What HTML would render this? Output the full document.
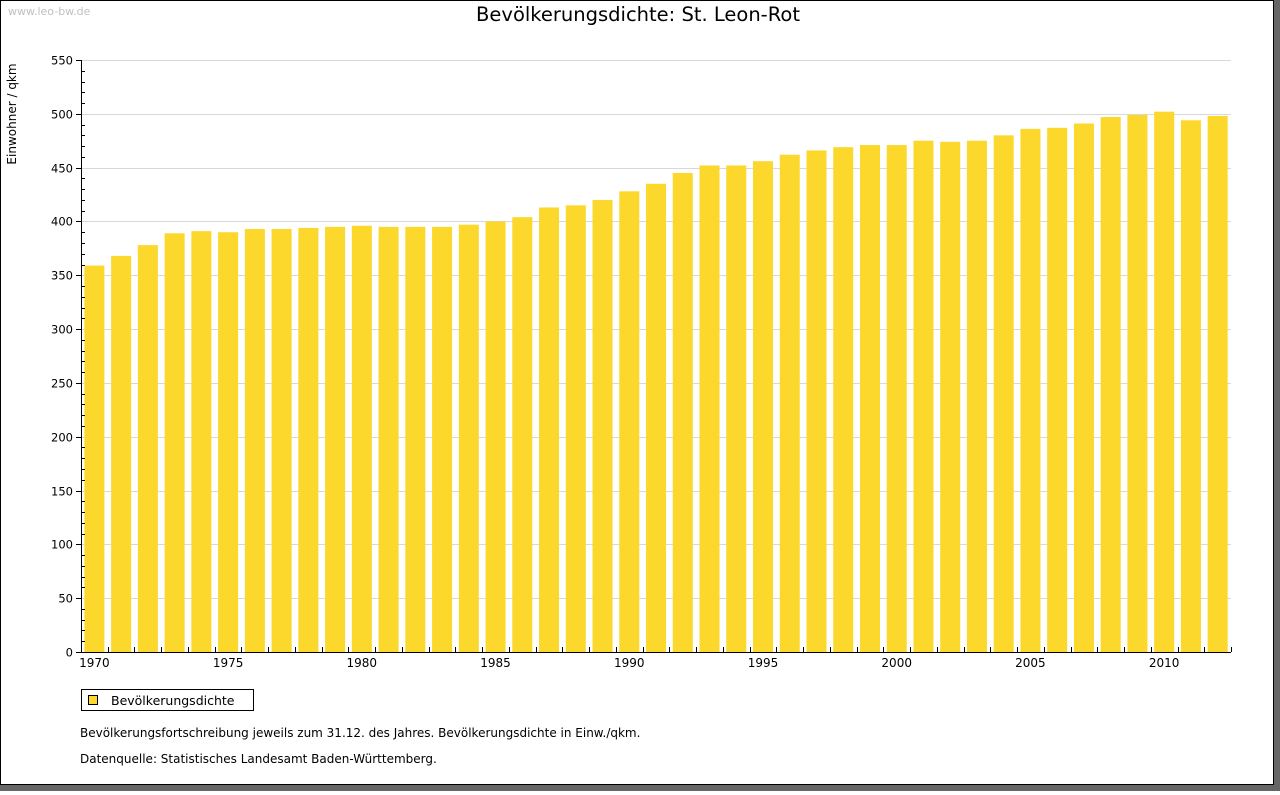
<!DOCTYPE html>
<html><head><meta charset="utf-8"><style>
body{margin:0;background:#fff;width:1280px;height:791px;overflow:hidden;font-family:"DejaVu Sans","Liberation Sans",sans-serif}
</style></head><body>
<svg width="1280" height="791" xmlns="http://www.w3.org/2000/svg">
<rect x="0" y="0" width="1280" height="791" fill="#666"/>
<rect x="0.5" y="0.5" width="1273" height="784" fill="#fff" stroke="#000"/>
<text x="8" y="15" font-size="11" fill="#c0c0c0">www.leo-bw.de</text>
<text x="638" y="21" font-size="19.5" text-anchor="middle" fill="#000">Bevölkerungsdichte: St. Leon-Rot</text>
<text transform="translate(16,114) rotate(-90)" font-size="12" text-anchor="middle">Einwohner / qkm</text>
<g id="grid"></g><g id="bars"></g><g id="axes"></g>
<rect x="81.5" y="689.5" width="172" height="21" fill="#fff" stroke="#000"/>
<rect x="88.5" y="695.5" width="9" height="9" fill="#fcd72c" stroke="#000"/>
<text x="111" y="705" font-size="12.5">Bevölkerungsdichte</text>
<text x="80" y="737" font-size="12">Bevölkerungsfortschreibung jeweils zum 31.12. des Jahres. Bevölkerungsdichte in Einw./qkm.</text>
<text x="80" y="763" font-size="12">Datenquelle: Statistisches Landesamt Baden-Württemberg.</text>
</svg>
<script>
const years=[];for(let y=1970;y<=2012;y++)years.push(y);
const values=[359,368,378,389,391,390,393,393,394,395,396,395,395,395,397,400,404,413,415,420,428,435,445,452,452,456,462,466,469,471,471,475,474,475,480,486,487,491,497,499,502,494,498];
const yTicks=[0,50,100,150,200,250,300,350,400,450,500,550];
const xLabels=[1970,1975,1980,1985,1990,1995,2000,2005,2010];
const NS='http://www.w3.org/2000/svg';
const X0=81,X1=1231,Y0=652,Y1=60,YMAX=550;
const slot=(X1-X0)/years.length;
const yS=v=>Y0-v/YMAX*(Y0-Y1);
const xS=yr=>X0+(yr-years[0])*slot;
function mk(t,a,p){const e=document.createElementNS(NS,t);for(const k in a)e.setAttribute(k,a[k]);p.appendChild(e);return e;}
const grid=document.getElementById('grid'),bars=document.getElementById('bars'),axes=document.getElementById('axes');
yTicks.forEach(v=>{const y=Math.round(yS(v))+0.5;
 if(v>0){const l=mk('line',{x1:X0,x2:X1,y1:y,y2:y,stroke:'#d8d8d8'},grid);
 
 }
 const t=mk('line',{x1:X0-5,x2:X0,y1:y,y2:y,stroke:'#000'},axes);
 
 
 const tx=mk('text',{x:X0-8,y:y+4,'font-size':11.5,'text-anchor':'end'},axes);tx.textContent=v;
 
 
});
for(let v=0;v<=YMAX;v+=10){if(v%50===0)continue;const y=Math.round(yS(v))+0.5;
 const t=mk('line',{x1:X0,x2:X0+4,y1:y,y2:y,stroke:'#000'},axes);
 
 }
years.forEach((yr,i)=>{const x=xS(yr);
 const r=mk('rect',{x:x+3.4,y:yS(values[i]),width:20,height:Y0-yS(values[i]),fill:'#fcd72c'},bars);
 
 
 const xt=Math.round(x+slot)+0.5;
 const t=mk('line',{x1:xt,x2:xt,y1:Y0-5,y2:Y0,stroke:'#000'},axes);
 
 
});
xLabels.forEach(yr=>{const tx=mk('text',{x:xS(yr)+slot/2,y:Y0+15,'font-size':12,'text-anchor':'middle'},axes);tx.textContent=yr;
 
 });
const ya=mk('line',{x1:X0+0.5,x2:X0+0.5,y1:Y1,y2:Y0+0.5,stroke:'#000'},axes);


const xa=mk('line',{x1:X0,x2:X1,y1:Y0+0.5,y2:Y0+0.5,stroke:'#000'},axes);


</script>
</body></html>
